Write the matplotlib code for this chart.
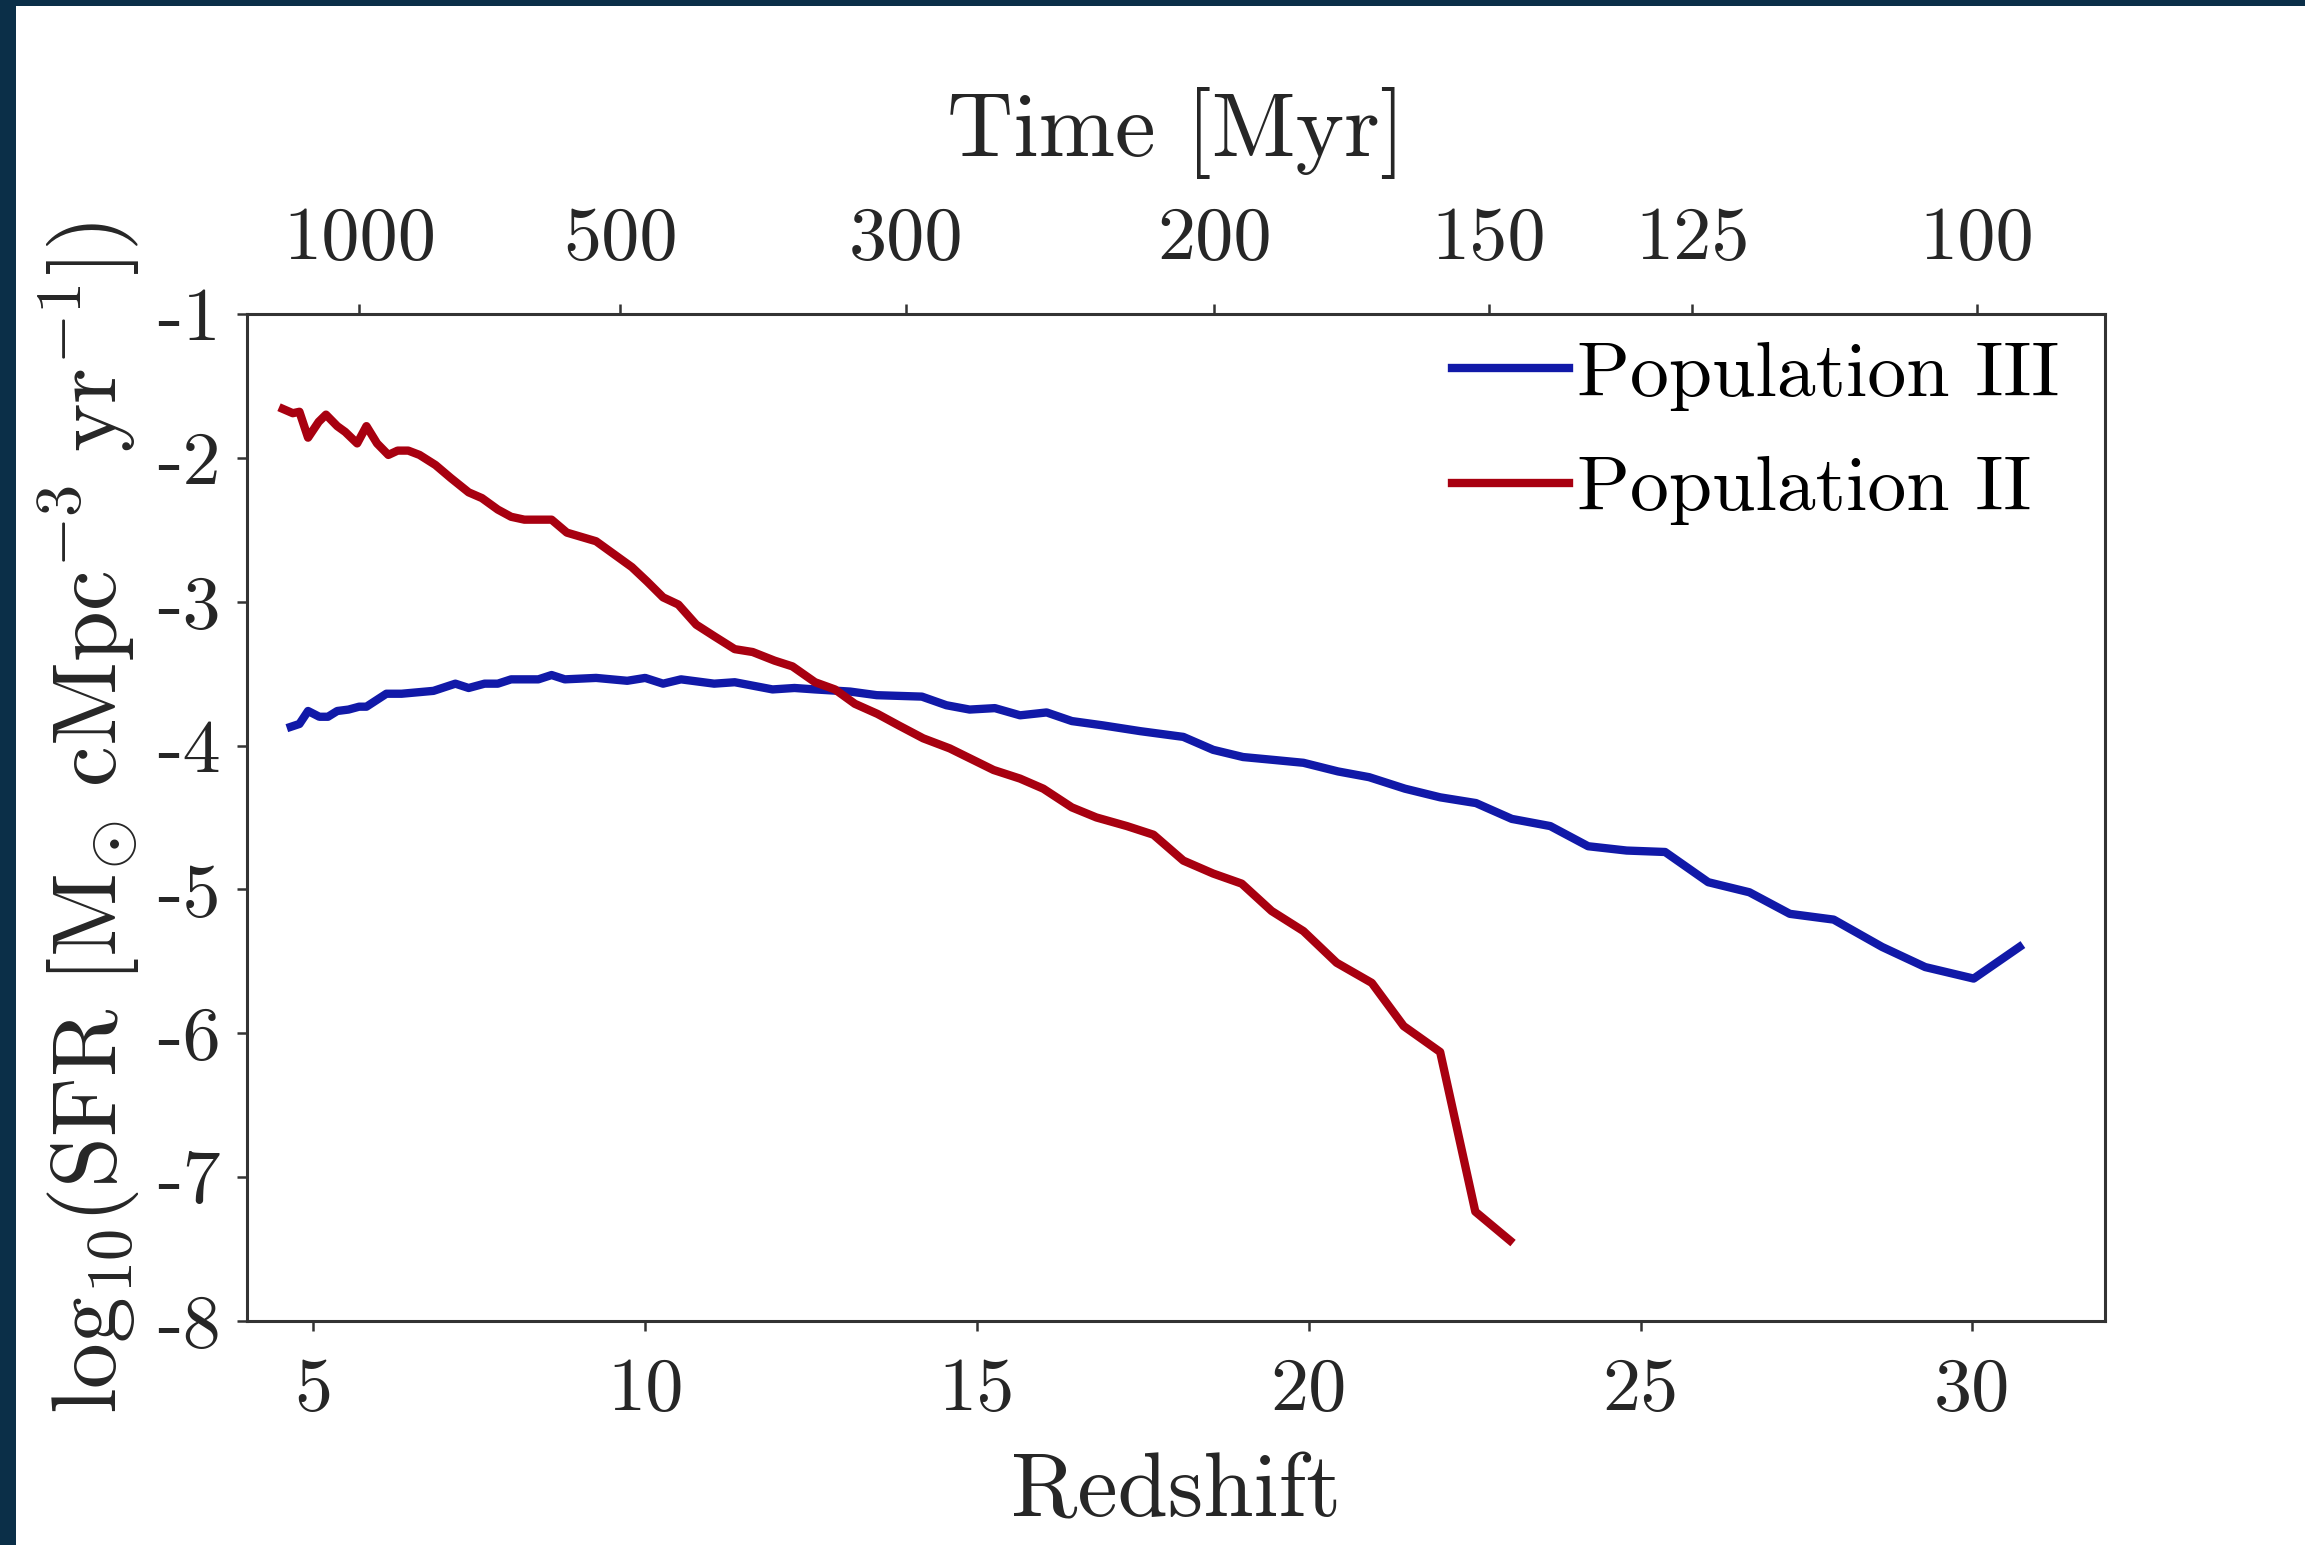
import numpy as np
import matplotlib
matplotlib.use("Agg")
import matplotlib.pyplot as plt
from matplotlib.patches import Rectangle

# Star formation rate density vs redshift
z_pop3 = [4.66, 4.79, 4.92, 5.09, 5.22, 5.36, 5.53, 5.69, 5.80, 6.10,
          6.33, 6.57, 6.81, 7.14, 7.34, 7.58, 7.78, 7.98, 8.39, 8.59,
          8.79, 9.26, 9.73, 10.00, 10.27, 10.54, 11.04, 11.35, 11.92, 12.25,
          12.56, 13.09, 13.49, 14.17, 14.54, 14.89, 15.27, 15.65, 16.05, 16.43,
          16.90, 17.46, 18.11, 18.56, 19.01, 19.47, 19.92, 20.44, 20.91, 21.45,
          21.98, 22.52, 23.06, 23.64, 24.21, 24.79, 25.37, 26.02, 26.64, 27.25,
          27.91, 28.64, 29.29, 30.02, 30.71]
sfr_pop3 = [-3.87, -3.85, -3.76, -3.80, -3.80, -3.76, -3.75, -3.73, -3.73, -3.64,
            -3.64, -3.63, -3.62, -3.57, -3.60, -3.57, -3.57, -3.54, -3.54, -3.51,
            -3.54, -3.53, -3.55, -3.53, -3.57, -3.54, -3.57, -3.56, -3.61, -3.60,
            -3.61, -3.625, -3.65, -3.66, -3.72, -3.75, -3.74, -3.79, -3.77, -3.83,
            -3.86, -3.90, -3.94, -4.03, -4.08, -4.10, -4.12, -4.18, -4.22, -4.30,
            -4.36, -4.40, -4.51, -4.56, -4.70, -4.73, -4.74, -4.95, -5.02, -5.17,
            -5.21, -5.40, -5.54, -5.62, -5.40]

z_pop2 = [4.54, 4.69, 4.79, 4.92, 5.08, 5.19, 5.36, 5.48, 5.66, 5.80,
          5.96, 6.13, 6.27, 6.43, 6.60, 6.84, 7.07, 7.34, 7.54, 7.78,
          7.98, 8.18, 8.59, 8.82, 9.26, 9.53, 9.80, 10.03, 10.27, 10.50,
          10.77, 11.04, 11.35, 11.62, 11.95, 12.22, 12.56, 12.86, 13.16, 13.50,
          13.82, 14.19, 14.59, 15.25, 15.65, 16.00, 16.43, 16.80, 17.26, 17.66,
          18.11, 18.56, 18.99, 19.44, 19.92, 20.42, 20.95, 21.43, 21.98, 22.51,
          23.03]
sfr_pop2 = [-1.66, -1.69, -1.68, -1.86, -1.75, -1.70, -1.78, -1.82, -1.90, -1.78,
            -1.90, -1.98, -1.95, -1.95, -1.98, -2.05, -2.14, -2.24, -2.28, -2.36,
            -2.41, -2.43, -2.43, -2.52, -2.58, -2.67, -2.76, -2.86, -2.97, -3.02,
            -3.16, -3.24, -3.33, -3.35, -3.41, -3.45, -3.56, -3.61, -3.71, -3.78,
            -3.86, -3.95, -4.02, -4.17, -4.23, -4.30, -4.43, -4.50, -4.56, -4.62,
            -4.80, -4.89, -4.96, -5.15, -5.29, -5.51, -5.65, -5.95, -6.13, -7.24,
            -7.44]

z_ticks = [5, 10, 15, 20, 25, 30]
sfr_ticks = [-1, -2, -3, -4, -5, -6, -7, -8]
time_ticks = [1000, 500, 300, 200, 150, 125, 100]

# age of universe, matter dominated: t = A (1+z)^-1.5  [Myr]
A_MYR = 17320.0

def z2t(z):
    z = np.asarray(z, dtype=float)
    return A_MYR * np.clip(1.0 + z, 1e-3, None) ** -1.5

def t2z(t):
    t = np.asarray(t, dtype=float)
    return (A_MYR / np.clip(t, 1e-3, None)) ** (2.0 / 3.0) - 1.0

plt.rcParams['font.family'] = 'serif'
plt.rcParams['font.serif'] = ['cmr10']
plt.rcParams['mathtext.fontset'] = 'cm'
plt.rcParams['axes.unicode_minus'] = False

txt = '#262626'
fig = plt.figure(figsize=(23.05, 15.45), dpi=100)
fig.patch.set_facecolor('white')
# dark frame on the left and top
fig.add_artist(Rectangle((0, 0), 16 / 2305, 1, transform=fig.transFigure,
                         facecolor='#0b2f48', edgecolor='none', zorder=-1))
fig.add_artist(Rectangle((0, 1 - 6 / 1545), 1, 6 / 1545, transform=fig.transFigure,
                         facecolor='#0b2f48', edgecolor='none', zorder=-1))

ax = fig.add_axes([0.10716, 0.1450, 0.8061, 0.6518])
ax.plot(z_pop3, sfr_pop3, color='#1119a8', lw=6, label='Population III')
ax.plot(z_pop2, sfr_pop2, color='#a80010', lw=6, label='Population II')

ax.set_xlim(4, 32)
ax.set_ylim(-8, -1)
ax.set_xticks(z_ticks)
ax.set_xticklabels([str(v) for v in z_ticks])
ax.set_yticks(sfr_ticks)
ax.set_yticklabels([str(v) for v in sfr_ticks])
ax.tick_params(axis='both', direction='out', length=7, width=1.8,
               labelsize=55, colors='#333333', labelcolor=txt)
ax.tick_params(axis='x', pad=19)
ax.tick_params(axis='y', pad=12)
for s in ax.spines.values():
    s.set_linewidth(2.2)
    s.set_color('#333333')

ax.set_xlabel('Redshift', fontsize=65, color=txt, labelpad=20)
ax.set_ylabel(r'$\mathrm{log}_{10}(\mathrm{SFR}\ [\mathrm{M}_{\odot}\ \mathrm{cMpc}^{-3}\ \mathrm{yr}^{-1}])$',
              fontsize=66, color=txt, labelpad=10)

sec = ax.secondary_xaxis('top', functions=(z2t, t2z))
sec.set_xticks(time_ticks)
sec.set_xticklabels([str(v) for v in time_ticks])
sec.tick_params(direction='out', length=7, width=1.8, labelsize=55,
                colors='#333333', labelcolor=txt, pad=22)
sec.set_xlabel('Time [Myr]', fontsize=66, color=txt, labelpad=36)

ax.legend(loc='upper right', frameon=False, fontsize=56, handlelength=1.5,
          handletextpad=0.1, labelspacing=0.58, borderaxespad=0.0,
          borderpad=0.35, bbox_to_anchor=(0.990, 1.0))

fig.savefig('out.png', dpi=100, facecolor='white')
